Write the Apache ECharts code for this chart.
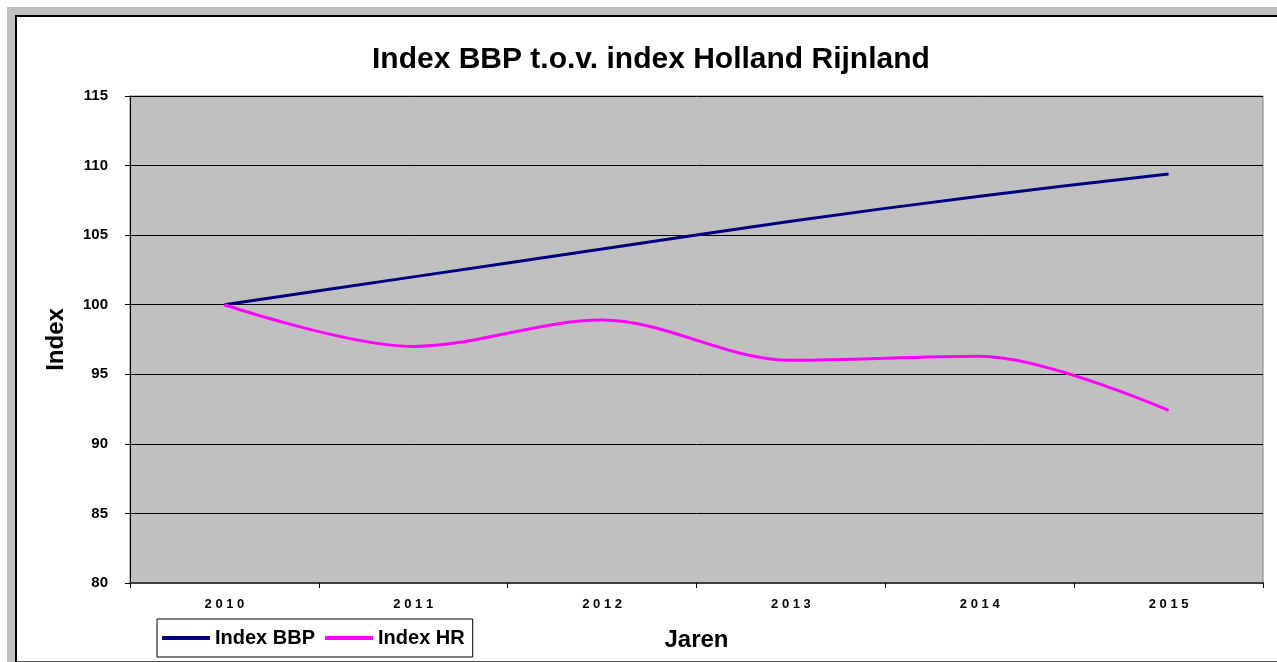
<!DOCTYPE html>
<html lang="nl">
<head>
    <meta charset="UTF-8">
    <title>Index BBP t.o.v. index Holland Rijnland</title>
    <style>
        *{
            padding: 0;
            margin: 0;
        }
        html, body{
            width: 100%;
            height: 100%;
            background: #fff;
            overflow: hidden;
        }
        .frame{
            position: absolute;
            left: 7px;
            top: 7px;
            width: 1300px;
            height: 700px;
            background: #c0c0c0;
        }
        .inner{
            position: absolute;
            left: 8px;
            top: 8px;
            width: 1290px;
            height: 644px;
            background: #fff;
            border-top: 2px solid #000;
            border-left: 2px solid #000;
            border-bottom: 2px solid #555;
        }
        #main{
            position: absolute;
            left: 0;
            top: 0;
            width: 1277px;
            height: 662px;
        }
    </style>
</head>
<body>
<div class="frame"><div class="inner"></div></div>
<div id="main"></div>
<script src="https://cdn.jsdelivr.net/npm/echarts@6/dist/echarts.min.js"></script>
<script type="text/javascript">
    // jaren op de x-as
    var jaren = ['2010', '2011', '2012', '2013', '2014', '2015'];
    var indexBBP = [100, 102, 104, 106, 107.8, 109.4];
    var indexHR = [100, 97, 98.9, 96, 96.3, 92.4];

    var myChart = echarts.init(document.getElementById('main'));
    var boldFont = {
        fontFamily: 'Arial',
        fontWeight: 'bold',
        color: '#000'
    };

    var option = {
        backgroundColor: 'transparent',
        animation: false,
        title: {
            text: 'Index BBP t.o.v. index Holland Rijnland',
            left: 367,
            top: 40,
            textStyle: Object.assign({fontSize: 30}, boldFont)
        },
        legend: {
            left: 157,
            top: 619,
            orient: 'horizontal',
            backgroundColor: '#fff',
            borderColor: '#000',
            borderWidth: 1,
            padding: [9, 8, 9, 5],
            icon: 'rect',
            itemWidth: 48,
            itemHeight: 4,
            itemGap: 10,
            textStyle: Object.assign({fontSize: 20}, boldFont),
            data: ['Index BBP', 'Index HR']
        },
        grid: {
            left: 130,
            right: 14,
            top: 96,
            bottom: 79,
            outerBoundsMode: 'none',
            containLabel: false,
            show: true,
            backgroundColor: '#c0c0c0',
            borderColor: '#808080',
            borderWidth: 1
        },
        xAxis: {
            type: 'category',
            data: jaren,
            boundaryGap: true,
            name: 'Jaren',
            nameLocation: 'middle',
            nameGap: 45,
            nameTextStyle: Object.assign({fontSize: 24}, boldFont),
            axisLine: {
                lineStyle: {color: '#404040', width: 2}
            },
            axisTick: {
                show: true,
                interval: 0,
                length: 5,
                lineStyle: {color: '#000'}
            },
            axisLabel: Object.assign({
                fontSize: 13,
                margin: 15,
                formatter: function (v) {
                    return v.split('').join(' ');
                }
            }, boldFont),
            splitLine: {show: false}
        },
        yAxis: {
            type: 'value',
            min: 80,
            max: 115,
            interval: 5,
            name: 'Index',
            nameLocation: 'middle',
            nameRotate: 90,
            nameGap: 62,
            nameTextStyle: Object.assign({fontSize: 24}, boldFont),
            axisLine: {
                show: true,
                lineStyle: {color: '#000', width: 1}
            },
            axisTick: {
                show: true,
                length: 5,
                lineStyle: {color: '#000'}
            },
            axisLabel: Object.assign({fontSize: 15, margin: 22}, boldFont),
            splitLine: {
                show: true,
                lineStyle: {color: '#000', width: 1}
            }
        },
        series: [
            {
                name: 'Index BBP',
                type: 'line',
                data: indexBBP,
                smooth: 0.33,
                symbol: 'none',
                lineStyle: {color: '#000080', width: 3},
                itemStyle: {color: '#000080'}
            },
            {
                name: 'Index HR',
                type: 'line',
                data: indexHR,
                smooth: 0.33,
                symbol: 'none',
                lineStyle: {color: '#ff00ff', width: 3},
                itemStyle: {color: '#ff00ff'}
            }
        ]
    };

    myChart.setOption(option);
</script>
</body>
</html>
